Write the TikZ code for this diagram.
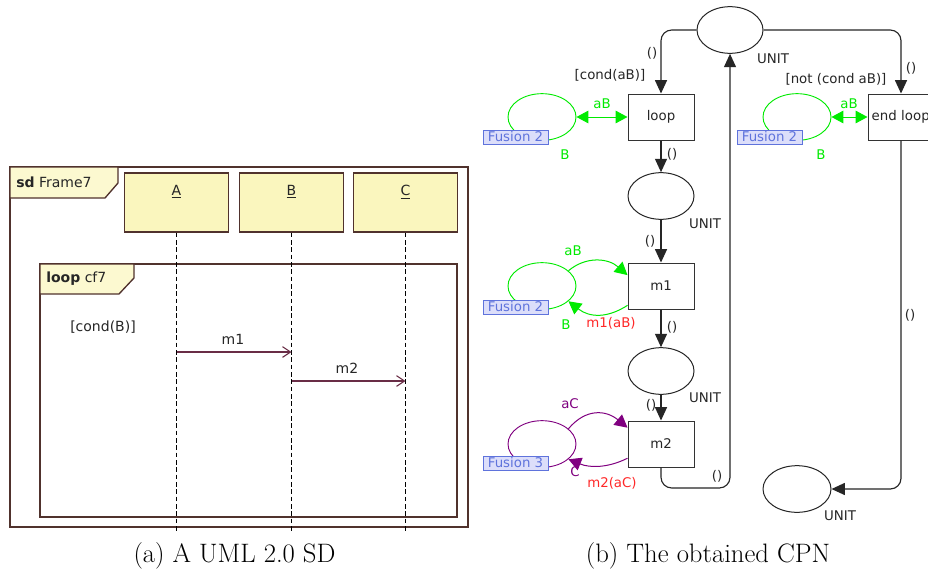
\documentclass[tikz,border=0pt]{standalone}
\usepackage{fontspec}
\newfontfamily\cpnfont{DejaVu Sans}
\usetikzlibrary{arrows.meta,shapes.geometric}
\definecolor{sdline}{RGB}{80,50,45}
\definecolor{sdyel}{RGB}{250,246,190}
\definecolor{sdtab}{RGB}{252,249,208}
\definecolor{msgc}{RGB}{105,45,70}
\definecolor{cgreen}{RGB}{0,235,0}
\definecolor{cpurple}{RGB}{128,0,128}
\definecolor{cred}{RGB}{255,40,40}
\definecolor{fusfill}{RGB}{220,222,250}
\definecolor{fusline}{RGB}{95,115,220}
\begin{document}
\begin{tikzpicture}[x=0.75pt,y=-0.75pt,
  sdtext/.style={font=\cpnfont\fontsize{10.5}{12}\selectfont, text=black!85, inner sep=0},
  sdbox/.style={draw=sdline, fill=sdyel, line width=1pt, minimum width=78pt, minimum height=44.25pt, inner sep=0},
  sdlife/.style={draw=black, line width=0.8pt, dash pattern=on 3.5pt off 2pt},
  sdmsg/.style={draw=msgc, line width=0.8pt, -{Straight Barb[length=6pt,width=8pt,line width=0.8pt]}},
  cpnlbl/.style={font=\cpnfont\fontsize{10}{12}\selectfont, text=black!85, inner sep=0},
  cpnplace/.style={ellipse, draw=black!85, line width=0.75pt, minimum width=49.5pt, minimum height=35pt, inner sep=0},
  cpntrans/.style={rectangle, draw=black!80, line width=0.75pt, minimum width=49.5pt, minimum height=34.5pt, fill=white, inner sep=0, font=\cpnfont\fontsize{10}{12}\selectfont, text=black!85},
  cpnarc/.style={draw=black!85, line width=0.85pt, rounded corners=8pt, -{Triangle[length=10pt,width=9pt]}},
  fplace/.style={ellipse, draw, line width=0.7pt, minimum width=51pt, minimum height=35pt, inner sep=0},
  fusion/.style={draw=fusline, fill=fusfill, text=fusline, minimum width=48.75pt, minimum height=10.5pt, inner sep=0, line width=0.6pt, font=\cpnfont\fontsize{10}{12}\selectfont},
  farc/.style={line width=0.75pt, -{Triangle[length=9.5pt,width=10pt]}},
  fdarc/.style={line width=0.75pt, {Triangle[length=9pt,width=9.5pt]}-{Triangle[length=9pt,width=9.5pt]}},
  capt/.style={font=\fontsize{20}{24}\selectfont, inner sep=0, anchor=base}
]
\clip (0,0) rectangle (928,571);
\fill[white] (0,0) rectangle (928,571);

% ================= (a) UML SD =================
\draw[sdline, line width=1.1pt] (10,167) rectangle (468,527);
\filldraw[fill=sdtab, draw=sdline, line width=1pt] (10,167) -- (118,167) -- (118,183) -- (105,198) -- (10,198) -- cycle;
\node[sdtext, anchor=west] (sdname) at (16,182) {\textbf{sd} Frame7};

\node[sdbox] (LA) at (176.5,202.5) {};
\node[sdbox] (LB) at (291.5,202.5) {};
\node[sdbox] (LC) at (405.5,202.5) {};
\node[sdtext] (tA) at (176.5,192) {\underline{A}};
\node[sdtext] (tB) at (291.5,192) {\underline{B}};
\node[sdtext] (tC) at (405.5,192) {\underline{C}};

\draw[sdline, line width=1pt] (40,264) rectangle (457,517);
\filldraw[fill=sdtab, draw=sdline, line width=1pt] (40,264) -- (134,264) -- (134,278) -- (119,294) -- (40,294) -- cycle;
\node[sdtext, anchor=west] (loopname) at (46,279) {\textbf{loop} cf7};
\node[sdtext] (guard) at (103,327) {[cond(B)]};

\coordinate (eA) at (176.5,532);
\coordinate (eB) at (291.5,532);
\coordinate (eC) at (405.5,532);
\draw[sdlife] (LA.south) -- (eA);
\draw[sdlife] (LB.south) -- (eB);
\draw[sdlife] (LC.south) -- (eC);

\coordinate (m1s) at (176.5,352);
\coordinate (m1e) at (291.5,352);
\coordinate (m2s) at (291.5,381);
\coordinate (m2e) at (405.5,381);
\draw[sdmsg] (m1s) -- (m1e);
\draw[sdmsg] (m2s) -- (m2e);
\node[sdtext] (lm1) at (233,339) {m1};
\node[sdtext] (lm2) at (347,368) {m2};

\node[capt] (capa) at (234.5,562) {(a) A UML 2.0 SD};

% ================= (b) CPN =================
\node[cpnplace] (P0) at (730,30) {};
\node[cpntrans] (Tloop) at (661,117) {loop};
\node[cpnplace] (P1) at (661,196) {};
\node[cpntrans] (Tm1) at (661,286) {m1};
\node[cpnplace] (P2) at (661,371) {};
\node[cpntrans] (Tm2) at (661,444) {m2};
\node[cpntrans, text width=44pt, align=left] (Tend) at (901,117) {end loop};
\node[cpnplace, minimum width=51pt] (P3) at (797,489) {};

\coordinate (c1) at (730,488);

\draw[cpnarc] (P0.west) -| (Tloop.north);
\draw[cpnarc] (P0.east) -| (Tend.north);
\draw[cpnarc] (Tloop.south) -- (P1.north);
\draw[cpnarc] (P1.south) -- (Tm1.north);
\draw[cpnarc] (Tm1.south) -- (P2.north);
\draw[cpnarc] (P2.south) -- (Tm2.north);
\draw[cpnarc] (Tm2.south) |- (c1) -- (P0.south);
\draw[cpnarc] (Tend.south) |- (P3.east);

\node[cpnlbl] at (773,59) {UNIT};
\node[cpnlbl] at (652,53) {()};
\node[cpnlbl] at (610,75) {[cond(aB)]};
\node[cpnlbl] at (672,154) {()};
\node[cpnlbl] at (705,224) {UNIT};
\node[cpnlbl] at (650,241) {()};
\node[cpnlbl] at (672,327) {()};
\node[cpnlbl] at (705,398) {UNIT};
\node[cpnlbl] at (651,405) {()};
\node[cpnlbl] at (717,476) {()};
\node[cpnlbl] at (911,68) {()};
\node[cpnlbl] at (836,79) {[not (cond aB)]};
\node[cpnlbl] at (910,315) {()};
\node[cpnlbl] at (840,516) {UNIT};

% fusion for loop
\node[fplace, draw=cgreen] (F1) at (542,117) {};
\node[fusion] (FL1) at (515.5,137) {Fusion 2};
\draw[fdarc, draw=cgreen] (F1.east) -- (Tloop.west);
\node[cpnlbl, text=cgreen] at (602,104) {aB};
\node[cpnlbl, text=cgreen] at (565,155) {B};

% fusion for end loop
\node[fplace, draw=cgreen] (F2) at (797,117) {};
\node[fusion] (FL2) at (769.5,137) {Fusion 2};
\draw[fdarc, draw=cgreen] (F2.east) -- (Tend.west);
\node[cpnlbl, text=cgreen] at (849,104) {aB};
\node[cpnlbl, text=cgreen] at (821,155) {B};

% fusion for m1
\node[fplace, draw=cgreen] (F3) at (542,286) {};
\node[fusion] (FL3) at (515.5,307) {Fusion 2};
\draw[farc, draw=cgreen] (F3.30) .. controls (586,256) and (608,258) .. (Tm1.162);
\draw[farc, draw=cgreen] (Tm1.210) .. controls (608,318) and (590,318) .. (F3.-30);
\node[cpnlbl, text=cgreen] at (573,251) {aB};
\node[cpnlbl, text=cgreen] at (566,325) {B};
\node[cpnlbl, text=cred] at (611,323) {m1(aB)};

% fusion for m2
\node[fplace, draw=cpurple] (F4) at (542,444) {};
\node[fusion] (FL4) at (515.5,463) {Fusion 3};
\draw[farc, draw=cpurple] (F4.30) .. controls (586,408) and (606,410) .. (Tm2.154);
\draw[farc, draw=cpurple] (Tm2.203) .. controls (608,468) and (590,468) .. (F4.-30);
\node[cpnlbl, text=cpurple] at (570,404) {aC};
\node[cpnlbl, text=cpurple] at (575,472) {C};
\node[cpnlbl, text=cred] at (612,483) {m2(aC)};

\node[capt] (capb) at (708,562) {(b) The obtained CPN};
\end{tikzpicture}
\end{document}
